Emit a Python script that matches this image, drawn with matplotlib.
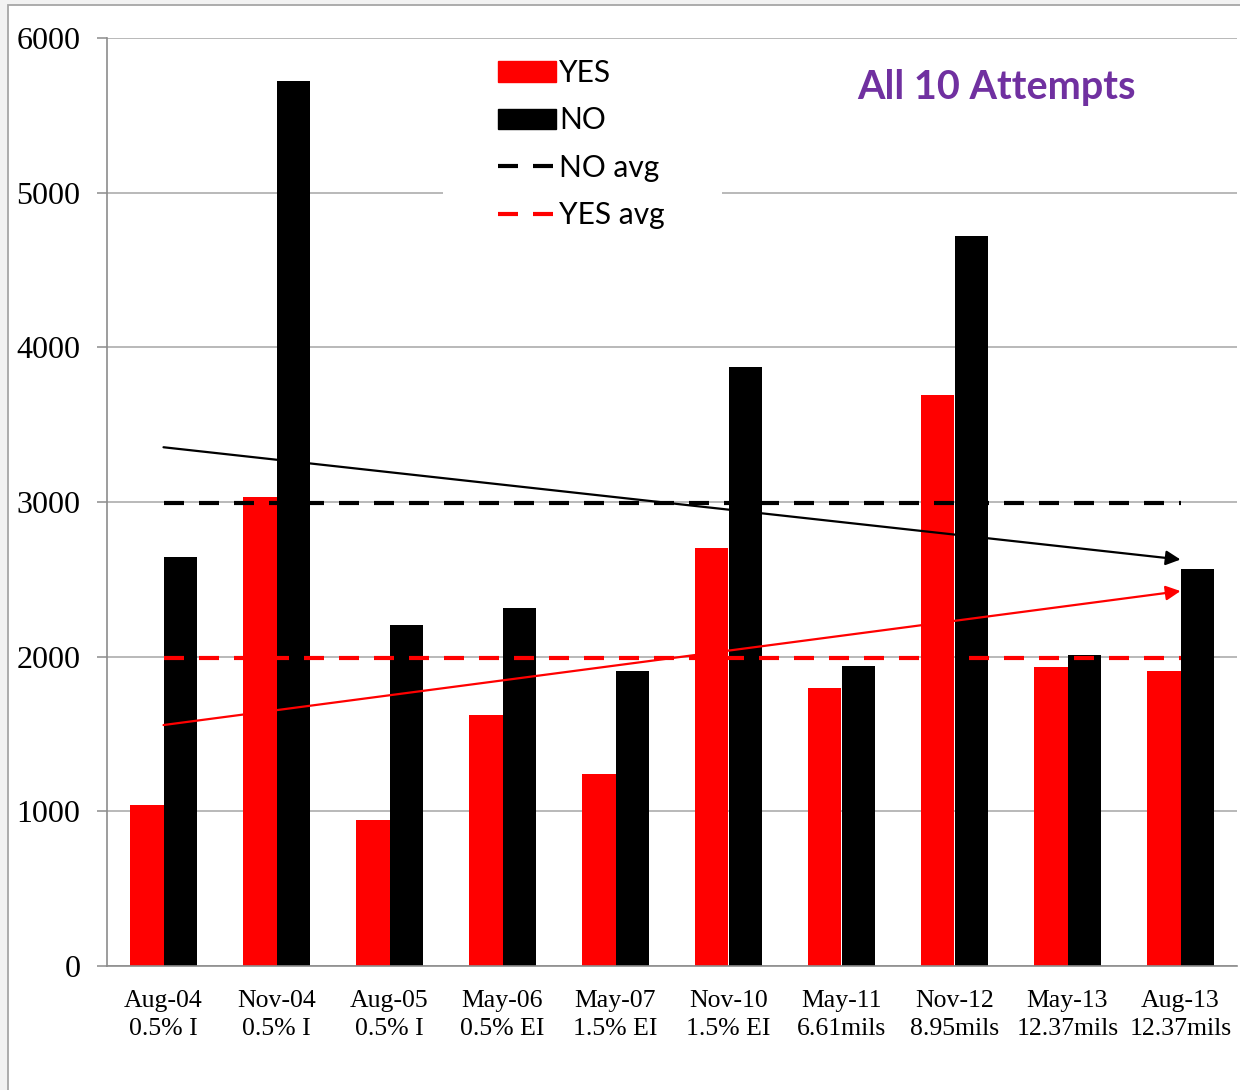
import numpy as np
import matplotlib
matplotlib.use("Agg")
import matplotlib.pyplot as plt
from matplotlib.patches import Patch, Rectangle
from matplotlib.lines import Line2D

dates = ["Aug-04", "Nov-04", "Aug-05", "May-06", "May-07",
         "Nov-10", "May-11", "Nov-12", "May-13", "Aug-13"]
coats = ["0.5% I", "0.5% I", "0.5% I", "0.5% EI", "1.5% EI",
         "1.5% EI", "6.61mils", "8.95mils", "12.37mils", "12.37mils"]
yes_vals = [1040, 3030, 945, 1620, 1240, 2700, 1800, 3695, 1930, 1910]
no_vals = [2645, 5725, 2205, 2315, 1910, 3875, 1940, 4720, 2010, 2565]

x = np.arange(len(dates))
yes = np.array(yes_vals)
no = np.array(no_vals)

W, H = 1240, 1090
fig = plt.figure(figsize=(W / 100, H / 100), dpi=100)
fig.patch.set_facecolor("#f2f2f2")
# white chart frame, cut off at right/bottom like the screenshot
frame = Rectangle((8 / W, -0.1), 1.2, (H - 5) / H + 0.1,
                  transform=fig.transFigure, facecolor="white",
                  edgecolor="#a6a6a6", lw=1.3, zorder=-5)
fig.patches.append(frame)

ax = fig.add_axes([107 / W, 124 / H, 1130 / W, 928 / H])
ax.set_facecolor("none")

w = 0.30
ax.bar(x - w / 2, yes, width=w, color="#ff0000", zorder=2)
ax.bar(x + w / 2, no, width=w, color="black", zorder=2)

dash = (0, (4.8, 3.6))
# averages
ax.plot([x[0], x[-1]], [no.mean()] * 2, color="black", lw=3, ls=dash,
        dash_capstyle="butt", zorder=3)
ax.plot([x[0], x[-1]], [yes.mean()] * 2, color="#ff0000", lw=3, ls=dash,
        dash_capstyle="butt", zorder=3)

# linear trend arrows
for vals, col in [(no, "black"), (yes, "#ff0000")]:
    k, b = np.polyfit(x, vals, 1)
    ax.annotate("", xy=(x[-1], k * x[-1] + b), xytext=(x[0], b),
                arrowprops=dict(arrowstyle="-|>", color=col, lw=1.6,
                                mutation_scale=22, shrinkA=0, shrinkB=0),
                zorder=4)

ax.set_xlim(-0.5, 9.5)
ax.set_ylim(0, 6000)
ax.set_yticks(range(0, 6001, 1000))
ax.yaxis.grid(True, color="#a6a6a6", lw=1.1)
ax.set_axisbelow(True)
for s in ["top", "right"]:
    ax.spines[s].set_visible(False)
for s in ["left", "bottom"]:
    ax.spines[s].set_color("#8c8c8c")
    ax.spines[s].set_linewidth(1.2)
ax.tick_params(axis="y", length=7, width=1.1, color="#8c8c8c", pad=12)
ax.tick_params(axis="x", length=0, pad=17)
ax.set_xticks(x)
ax.set_xticklabels([d + "\n" + c for d, c in zip(dates, coats)],
                   fontfamily="Liberation Serif", fontsize=18.5, linespacing=1.35)
for t in ax.get_yticklabels():
    t.set_fontfamily("Liberation Serif")
    t.set_fontsize(23)

# white box behind the legend hides the gridline
ax.add_patch(Rectangle((443 / W, 1 - 245 / H), 279 / W, 200 / H,
                       transform=fig.transFigure, facecolor="white",
                       edgecolor="none", zorder=1))

handles = [Patch(color="#ff0000"), Patch(color="black"),
           Line2D([], [], color="black", lw=3, ls=dash, dash_capstyle="butt"),
           Line2D([], [], color="#ff0000", lw=3, ls=dash, dash_capstyle="butt")]
leg = fig.legend(handles, ["YES", "NO", "NO avg", "YES avg"],
                 loc="upper left", bbox_to_anchor=(498 / W, 1 - 59 / H),
                 frameon=False, prop={"family": "Lato", "size": 21.5},
                 handlelength=1.95, handleheight=0.68, handletextpad=0.1,
                 labelspacing=0.65, borderpad=0, borderaxespad=0)

fig.text(996 / W, 1 - 88 / H, "All 10 Attempts", color="#7030a0",
         fontfamily="Lato", fontweight="bold", fontsize=28.5, ha="center", va="center")

fig.savefig("out.png", dpi=100, facecolor=fig.get_facecolor())
